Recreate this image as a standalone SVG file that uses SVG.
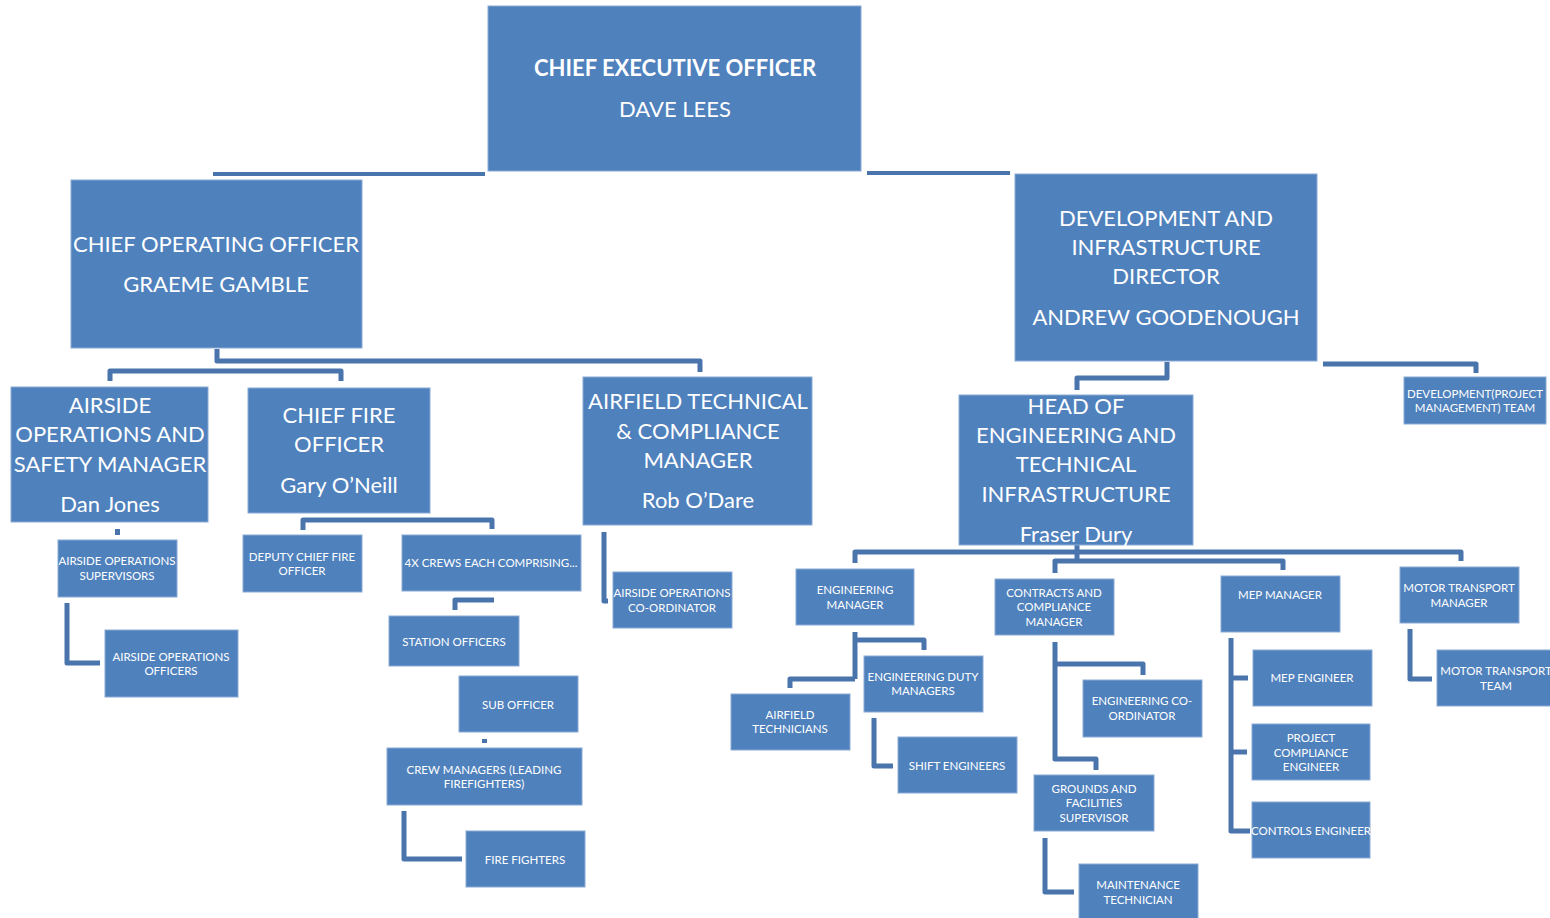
<svg xmlns="http://www.w3.org/2000/svg" width="1550" height="918" viewBox="0 0 1550 918">
<style>
.b{fill:#4F81BD;stroke:#8AA9D4;stroke-width:1}
.t{fill:#FFFFFF;font-family:Lato,"Liberation Sans",sans-serif;text-anchor:middle}
.L{font-size:22px}
.S{font-size:11.5px}
.c{fill:none;stroke:#4A75AC;stroke-width:5;stroke-linejoin:round;stroke-linecap:butt}
.k{fill:#4A75AC}
</style>
<rect width="1550" height="918" fill="#FFFFFF"/>
<g id="connectors">
<rect class="k" x="213" y="172" width="272" height="4"/>
<rect class="k" x="867" y="171" width="143" height="4"/>
<polyline class="c" points="217,349 217,361 700,361 700,372"/>
<polyline class="c" points="110,381 110,371 341,371 341,381"/>
<polyline class="c" points="1167,362 1167,378 1077,378 1077,390"/>
<polyline class="c" points="1323,364 1476,364 1476,373"/>
<rect class="k" x="115" y="529" width="5" height="6"/>
<polyline class="c" points="67,603 67,663 100,663"/>
<polyline class="c" points="303,530 303,520 492,520 492,529"/>
<polyline class="c" points="455,610 455,600 494,600"/>
<rect class="k" x="482" y="739" width="5" height="4"/>
<polyline class="c" points="404,811 404,859 462,859"/>
<polyline class="c" points="604,532 604,601 608,601"/>
<polyline class="c" points="855,563 855,552 1461,552 1461,561"/>
<line class="c" x1="1077" y1="545" x2="1077" y2="561"/>
<polyline class="c" points="1055,573 1055,561 1283,561 1283,570"/>
<polyline class="c" points="855,632 855,679"/>
<polyline class="c" points="855,640 924,640 924,650"/>
<polyline class="c" points="855,679 790,679 790,688"/>
<polyline class="c" points="874,718 874,766 893,766"/>
<polyline class="c" points="1055,642 1055,759 1096,759 1096,770"/>
<polyline class="c" points="1055,664 1143,664 1143,675"/>
<polyline class="c" points="1045,838 1045,892 1074,892"/>
<polyline class="c" points="1231,638 1231,831 1250,831"/>
<line class="c" x1="1231" y1="678" x2="1248" y2="678"/>
<line class="c" x1="1231" y1="752" x2="1247" y2="752"/>
<polyline class="c" points="1410,629 1410,679 1432,679"/>
</g>
<g id="ceo"><rect class="b" x="488" y="6" width="373" height="165"/>
<text class="t L" x="675" y="76" font-weight="bold">CHIEF EXECUTIVE OFFICER</text>
<text class="t L" x="675" y="117">DAVE LEES</text></g>
<g id="coo"><rect class="b" x="71" y="180" width="291" height="168"/>
<text class="t L" x="216" y="252">CHIEF OPERATING OFFICER</text>
<text class="t L" x="216" y="292">GRAEME GAMBLE</text></g>
<g id="devdir"><rect class="b" x="1015" y="174" width="302" height="187"/>
<text class="t L" x="1166" y="226">DEVELOPMENT AND</text>
<text class="t L" x="1166" y="255">INFRASTRUCTURE</text>
<text class="t L" x="1166" y="284">DIRECTOR</text>
<text class="t L" x="1166" y="325">ANDREW GOODENOUGH</text></g>
<g id="airsidemgr"><rect class="b" x="11" y="387" width="197" height="135"/>
<text class="t L" x="110" y="413">AIRSIDE</text>
<text class="t L" x="110" y="442">OPERATIONS AND</text>
<text class="t L" x="110" y="472">SAFETY MANAGER</text>
<text class="t L" x="110" y="512">Dan Jones</text></g>
<g id="chieffire"><rect class="b" x="248" y="388" width="182" height="125"/>
<text class="t L" x="339" y="423">CHIEF FIRE</text>
<text class="t L" x="339" y="452">OFFICER</text>
<text class="t L" x="339" y="493">Gary O’Neill</text></g>
<g id="airfieldtech"><rect class="b" x="583" y="377" width="229" height="148"/>
<text class="t L" x="698" y="409">AIRFIELD TECHNICAL</text>
<text class="t L" x="698" y="439">&amp; COMPLIANCE</text>
<text class="t L" x="698" y="468">MANAGER</text>
<text class="t L" x="698" y="508">Rob O’Dare</text></g>
<g id="headeng"><rect class="b" x="959" y="395" width="234" height="150"/>
<text class="t L" x="1076" y="414">HEAD OF</text>
<text class="t L" x="1076" y="443">ENGINEERING AND</text>
<text class="t L" x="1076" y="472">TECHNICAL</text>
<text class="t L" x="1076" y="502">INFRASTRUCTURE</text>
<text class="t L" x="1076" y="542">Fraser Dury</text></g>
<g id="devteam"><rect class="b" x="1404" y="377" width="142" height="47"/>
<text class="t S" x="1475" y="398" font-size="11">DEVELOPMENT(PROJECT</text>
<text class="t S" x="1475" y="412" font-size="11">MANAGEMENT) TEAM</text></g>
<g id="aosup"><rect class="b" x="58" y="540" width="119" height="57"/>
<text class="t S" x="117" y="565">AIRSIDE OPERATIONS</text>
<text class="t S" x="117" y="580">SUPERVISORS</text></g>
<g id="aoofficers"><rect class="b" x="105" y="630" width="133" height="67"/>
<text class="t S" x="171" y="661">AIRSIDE OPERATIONS</text>
<text class="t S" x="171" y="675">OFFICERS</text></g>
<g id="deputy"><rect class="b" x="243" y="535" width="119" height="57"/>
<text class="t S" x="302" y="561">DEPUTY CHIEF FIRE</text>
<text class="t S" x="302" y="575">OFFICER</text></g>
<g id="crews"><rect class="b" x="402" y="535" width="179" height="56"/>
<text class="t S" x="491" y="567">4X CREWS EACH COMPRISING...</text></g>
<g id="station"><rect class="b" x="389" y="616" width="130" height="50"/>
<text class="t S" x="454" y="646">STATION OFFICERS</text></g>
<g id="sub"><rect class="b" x="459" y="676" width="119" height="56"/>
<text class="t S" x="518" y="709">SUB OFFICER</text></g>
<g id="crewmgr"><rect class="b" x="387" y="748" width="195" height="57"/>
<text class="t S" x="484" y="774">CREW MANAGERS (LEADING</text>
<text class="t S" x="484" y="788">FIREFIGHTERS)</text></g>
<g id="firefighters"><rect class="b" x="466" y="831" width="119" height="56"/>
<text class="t S" x="525" y="864">FIRE FIGHTERS</text></g>
<g id="aocoord"><rect class="b" x="613" y="572" width="119" height="56"/>
<text class="t S" x="672" y="597">AIRSIDE OPERATIONS</text>
<text class="t S" x="672" y="612">CO-ORDINATOR</text></g>
<g id="engmgr"><rect class="b" x="796" y="569" width="118" height="56"/>
<text class="t S" x="855" y="594">ENGINEERING</text>
<text class="t S" x="855" y="609">MANAGER</text></g>
<g id="engduty"><rect class="b" x="864" y="656" width="119" height="56"/>
<text class="t S" x="923" y="681">ENGINEERING DUTY</text>
<text class="t S" x="923" y="695">MANAGERS</text></g>
<g id="airfieldtechs"><rect class="b" x="731" y="694" width="119" height="56"/>
<text class="t S" x="790" y="719">AIRFIELD</text>
<text class="t S" x="790" y="733">TECHNICIANS</text></g>
<g id="shift"><rect class="b" x="898" y="737" width="119" height="56"/>
<text class="t S" x="957" y="770">SHIFT ENGINEERS</text></g>
<g id="contracts"><rect class="b" x="995" y="579" width="119" height="56"/>
<text class="t S" x="1054" y="597">CONTRACTS AND</text>
<text class="t S" x="1054" y="611">COMPLIANCE</text>
<text class="t S" x="1054" y="626">MANAGER</text></g>
<g id="engcoord"><rect class="b" x="1083" y="680" width="119" height="57"/>
<text class="t S" x="1142" y="705">ENGINEERING CO-</text>
<text class="t S" x="1142" y="720">ORDINATOR</text></g>
<g id="grounds"><rect class="b" x="1034" y="775" width="120" height="56"/>
<text class="t S" x="1094" y="793">GROUNDS AND</text>
<text class="t S" x="1094" y="807">FACILITIES</text>
<text class="t S" x="1094" y="822">SUPERVISOR</text></g>
<g id="maint"><rect class="b" x="1079" y="864" width="119" height="56"/>
<text class="t S" x="1138" y="889">MAINTENANCE</text>
<text class="t S" x="1138" y="904">TECHNICIAN</text></g>
<g id="mepmgr"><rect class="b" x="1221" y="576" width="119" height="56"/>
<text class="t S" x="1280" y="599">MEP MANAGER</text></g>
<g id="mepeng"><rect class="b" x="1253" y="650" width="119" height="56"/>
<text class="t S" x="1312" y="682">MEP ENGINEER</text></g>
<g id="projcomp"><rect class="b" x="1252" y="724" width="118" height="56"/>
<text class="t S" x="1311" y="742">PROJECT</text>
<text class="t S" x="1311" y="757">COMPLIANCE</text>
<text class="t S" x="1311" y="771">ENGINEER</text></g>
<g id="controls"><rect class="b" x="1252" y="802" width="118" height="56"/>
<text class="t S" x="1311" y="835">CONTROLS ENGINEER</text></g>
<g id="mtmgr"><rect class="b" x="1400" y="567" width="119" height="56"/>
<text class="t S" x="1459" y="592">MOTOR TRANSPORT</text>
<text class="t S" x="1459" y="607">MANAGER</text></g>
<g id="mtteam"><rect class="b" x="1437" y="650" width="119" height="56"/>
<text class="t S" x="1496" y="675">MOTOR TRANSPORT</text>
<text class="t S" x="1496" y="690">TEAM</text></g>
</svg>
